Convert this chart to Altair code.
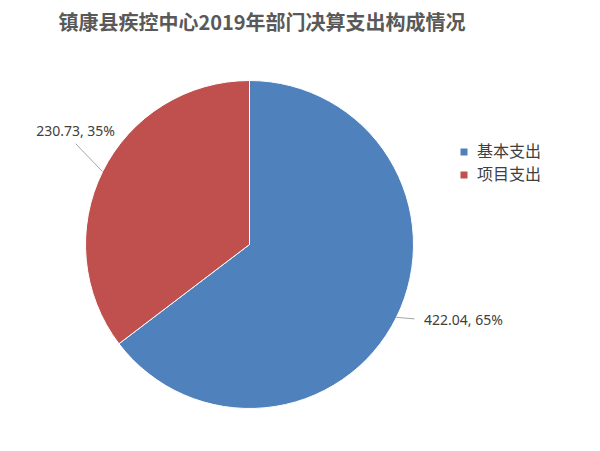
import altair as alt
import pandas as pd

categories = ["基本支出", "项目支出"]
values = [422.04, 230.73]
order = [1, 2]
colors = ["#4F81BD", "#C0504D"]

df = pd.DataFrame({"cat": categories, "value": values, "order": order})

CX, CY, R = 241.5, 194.5, 164

base = alt.Chart(df).transform_joinaggregate(
    total="sum(value)"
).transform_window(
    cum="sum(value)", sort=[alt.SortField("order")], frame=[None, 0]
).transform_calculate(
    mid="2*PI*(datum.cum - datum.value/2)/datum.total"
).transform_calculate(
    ex=f"{CX} + {R}*sin(datum.mid)",
    ey=f"{CY} - {R}*cos(datum.mid)",
    label="format(datum.value, '.2f') + ', ' + format(datum.value/datum.total*100, '.0f') + '%'",
).transform_calculate(
    lx="datum.ex + (datum.cat == '项目支出' ? -27 : 18)",
    ly="datum.ey + (datum.cat == '项目支出' ? -28 : 1.5)",
    tx="datum.ex + (datum.cat == '项目支出' ? -27 : 67)",
    ty="datum.ey + (datum.cat == '项目支出' ? -40 : 3.5)",
)

arcs = alt.Chart(df).mark_arc(outerRadius=R, stroke="white", strokeWidth=1).encode(
    theta=alt.Theta("value:Q", stack=True),
    order=alt.Order("order:Q"),
    color=alt.Color(
        "cat:N",
        scale=alt.Scale(domain=categories, range=colors),
        legend=alt.Legend(
            title=None,
            orient="none",
            legendX=448,
            legendY=94,
            direction="vertical",
            symbolType="square",
            symbolSize=49,
            symbolStrokeWidth=0,
            labelFontSize=16,
            labelFont="Noto Sans CJK SC",
            labelColor="#404040",
            labelOffset=5,
            rowPadding=7,
            padding=0,
        ),
    ),
    x=alt.value(CX),
    y=alt.value(CY),
)

rules = base.mark_rule(color="#a6a6a6", strokeWidth=1).encode(
    x=alt.X("ex:Q", scale=None),
    y=alt.Y("ey:Q", scale=None),
    x2="lx:Q",
    y2="ly:Q",
)

texts = base.mark_text(
    align="center", baseline="middle", font="Noto Sans", fontSize=14, color="#404040"
).encode(
    x=alt.X("tx:Q", scale=None),
    y=alt.Y("ty:Q", scale=None),
    text="label:N",
)

chart = alt.layer(arcs, rules, texts).properties(
    width=584,
    height=393,
    background="white",
    padding={"left": 0, "top": 42, "right": 0, "bottom": 0},
    autosize=alt.AutoSizeParams(type="none"),
    title=alt.TitleParams(
        "镇康县疾控中心2019年部门决算支出构成情况",
        font="Noto Sans CJK SC",
        fontSize=20,
        fontWeight="bold",
        color="#595959",
        anchor="middle",
        dx=-38,
        offset=16,
    ),
).configure_view(strokeWidth=0, stroke=None)

chart.save("out.html", embed_options={"renderer": "svg", "actions": False})
